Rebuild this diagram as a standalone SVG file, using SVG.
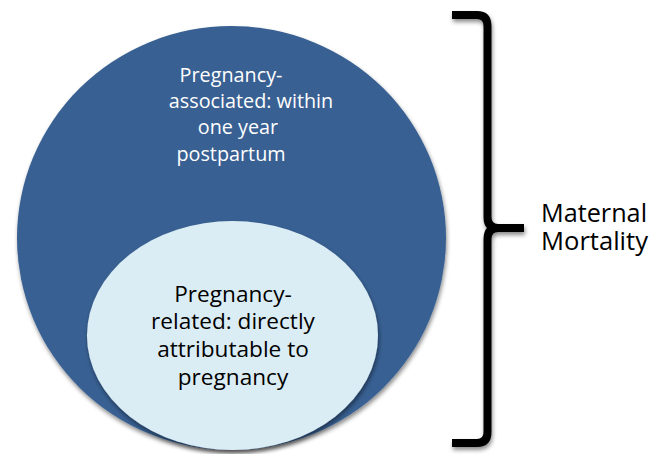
<svg xmlns="http://www.w3.org/2000/svg" width="658" height="454" viewBox="0 0 658 454">
  <style>
    .lbl { font-family: "Open Sans", "Liberation Sans", sans-serif; text-anchor: middle; }
    .outer-txt { fill: #ffffff; font-size: 19.8px; }
    .inner-txt { fill: #000000; font-size: 22.6px; }
    .side-txt { font-family: "Open Sans", "Liberation Sans", sans-serif; fill: #000000; font-size: 25.5px; }
    .brace { fill: none; stroke: #000000; stroke-width: 8; stroke-linejoin: round; }
  </style>
  <defs>
    <filter id="shadow" x="-10%" y="-10%" width="120%" height="125%">
      <feDropShadow dx="1" dy="3" stdDeviation="2.2" flood-color="#000000" flood-opacity="0.45"/>
    </filter>
  </defs>
  <rect width="658" height="454" fill="#ffffff"/>

  <g id="node-pregnancy-associated">
    <ellipse cx="231.5" cy="238" rx="214.5" ry="212" fill="#386092" filter="url(#shadow)"/>
    <text class="lbl outer-txt" x="231" y="82">Pregnancy-</text>
    <text class="lbl outer-txt" x="251" y="108">associated: within</text>
    <text class="lbl outer-txt" x="238" y="134">one year</text>
    <text class="lbl outer-txt" x="231" y="161">postpartum</text>
  </g>

  <g id="node-pregnancy-related">
    <ellipse cx="232.5" cy="335.5" rx="145.5" ry="114.5" fill="#DBEDF4" filter="url(#shadow)"/>
    <text class="lbl inner-txt" x="233" y="302">Pregnancy-</text>
    <text class="lbl inner-txt" x="233" y="329">related: directly</text>
    <text class="lbl inner-txt" x="233" y="357">attributable to</text>
    <text class="lbl inner-txt" x="233" y="385">pregnancy</text>
  </g>

  <g id="connectors">
    <path class="brace" filter="url(#shadow)" d="M452,15 L477,15 Q487.5,15 487.5,26 L487.5,217 Q487.5,228 498,228 L524,228 M498,228 Q487.5,228 487.5,239 L487.5,432 Q487.5,443 477,443 L452,443"/>
  </g>

  <g id="node-maternal-mortality">
    <text class="side-txt" x="541" y="222" textLength="106" lengthAdjust="spacingAndGlyphs">Maternal</text>
    <text class="side-txt" x="541" y="250" textLength="107" lengthAdjust="spacingAndGlyphs">Mortality</text>
  </g>
</svg>
